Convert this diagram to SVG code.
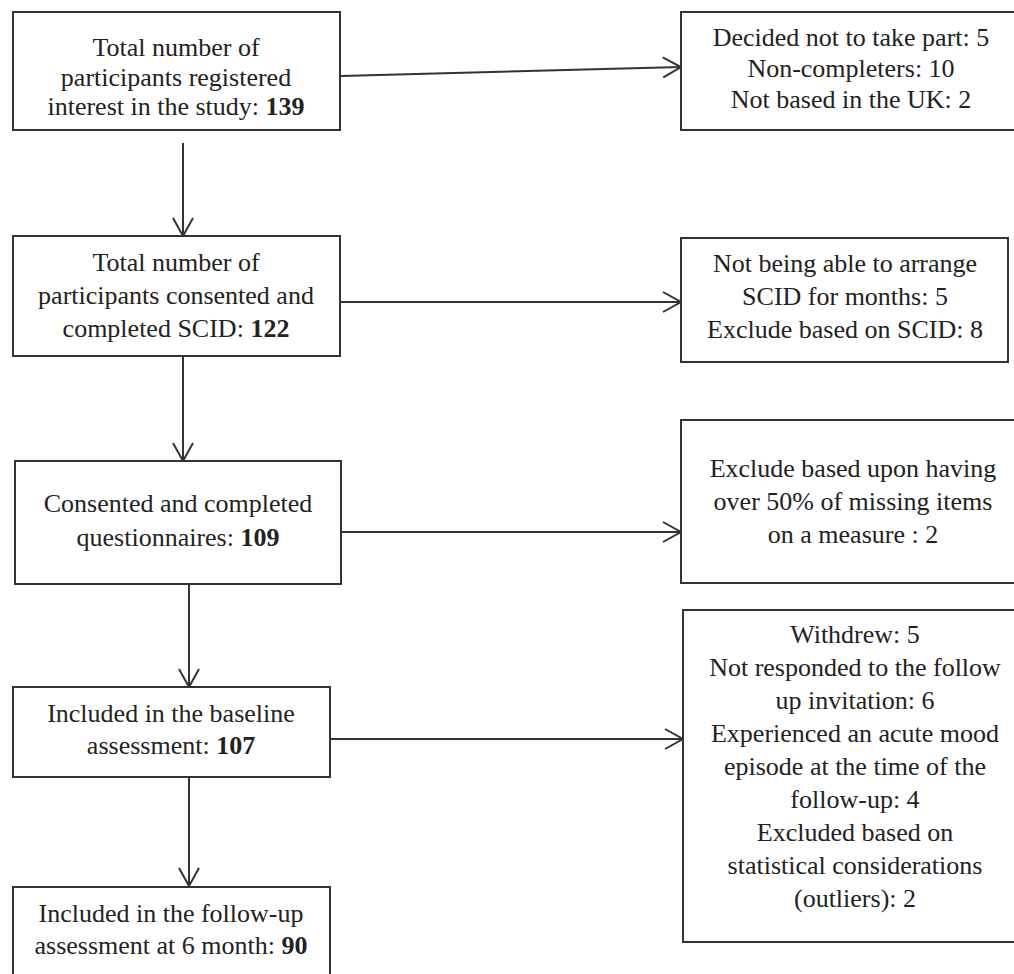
<svg xmlns="http://www.w3.org/2000/svg" width="1014" height="974" viewBox="0 0 1014 974">
  <style>
    .box { fill: #ffffff; stroke: #333333; stroke-width: 2; }
    .t { font-family: "Liberation Serif", "Times New Roman", serif; font-size: 26px; fill: #222222; text-anchor: middle; }
    .b { font-weight: bold; }
    .conn { stroke: #333333; stroke-width: 2; fill: none; marker-end: url(#arr); }
  </style>
  <defs>
    <marker id="arr" markerUnits="userSpaceOnUse" markerWidth="22" markerHeight="24" refX="19" refY="11" orient="auto">
      <path d="M1,1 L19,11 L1,21" fill="none" stroke="#333333" stroke-width="2"/>
    </marker>
  </defs>
  <rect width="1014" height="974" fill="#ffffff"/>

  <g id="connectors">
    <line class="conn" x1="341" y1="76" x2="681" y2="67"/>
    <line class="conn" x1="341" y1="302" x2="681" y2="302"/>
    <line class="conn" x1="342" y1="532" x2="681" y2="532"/>
    <line class="conn" x1="331" y1="739" x2="683" y2="739"/>
    <line class="conn" x1="183" y1="143" x2="183" y2="236"/>
    <line class="conn" x1="183" y1="357" x2="183" y2="461"/>
    <line class="conn" x1="189" y1="585" x2="189" y2="687"/>
    <line class="conn" x1="189" y1="778" x2="189" y2="886"/>
  </g>

  <g id="registered">
    <rect class="box" x="13" y="12" width="327" height="118"/>
    <text class="t" x="176" y="56">Total number of</text>
    <text class="t" x="176" y="86">participants registered</text>
    <text class="t" x="176" y="115">interest in the study: <tspan class="b">139</tspan></text>
  </g>

  <g id="excluded1">
    <rect class="box" x="681" y="12" width="350" height="118"/>
    <text class="t" x="851" y="46">Decided not to take part: 5</text>
    <text class="t" x="851" y="77">Non-completers: 10</text>
    <text class="t" x="851" y="108">Not based in the UK: 2</text>
  </g>

  <g id="consented">
    <rect class="box" x="13" y="236" width="327" height="120"/>
    <text class="t" x="176" y="271">Total number of</text>
    <text class="t" x="176" y="304">participants consented and</text>
    <text class="t" x="176" y="337">completed SCID: <tspan class="b">122</tspan></text>
  </g>

  <g id="excluded2">
    <rect class="box" x="681" y="238" width="327" height="124"/>
    <text class="t" x="845" y="272">Not being able to arrange</text>
    <text class="t" x="845" y="305">SCID for months: 5</text>
    <text class="t" x="845" y="338">Exclude based on SCID: 8</text>
  </g>

  <g id="questionnaires">
    <rect class="box" x="15" y="461" width="326" height="123"/>
    <text class="t" x="178" y="512">Consented and completed</text>
    <text class="t" x="178" y="546">questionnaires: <tspan class="b">109</tspan></text>
  </g>

  <g id="excluded3">
    <rect class="box" x="681" y="420" width="350" height="163"/>
    <text class="t" x="853" y="477">Exclude based upon having</text>
    <text class="t" x="853" y="510">over 50% of missing items</text>
    <text class="t" x="853" y="543">on a measure : 2</text>
  </g>

  <g id="baseline">
    <rect class="box" x="13" y="687" width="317" height="90"/>
    <text class="t" x="171" y="722">Included in the baseline</text>
    <text class="t" x="171" y="754">assessment: <tspan class="b">107</tspan></text>
  </g>

  <g id="excluded4">
    <rect class="box" x="683" y="610" width="350" height="332"/>
    <text class="t" x="855" y="643">Withdrew: 5</text>
    <text class="t" x="855" y="676">Not responded to the follow</text>
    <text class="t" x="855" y="709">up invitation: 6</text>
    <text class="t" x="855" y="742">Experienced an acute mood</text>
    <text class="t" x="855" y="775">episode at the time of the</text>
    <text class="t" x="855" y="808">follow-up: 4</text>
    <text class="t" x="855" y="841">Excluded based on</text>
    <text class="t" x="855" y="874">statistical considerations</text>
    <text class="t" x="855" y="907">(outliers): 2</text>
  </g>

  <g id="followup">
    <rect class="box" x="13" y="887" width="317" height="100"/>
    <text class="t" x="171" y="922">Included in the follow-up</text>
    <text class="t" x="171" y="954">assessment at 6 month: <tspan class="b">90</tspan></text>
  </g>
</svg>
